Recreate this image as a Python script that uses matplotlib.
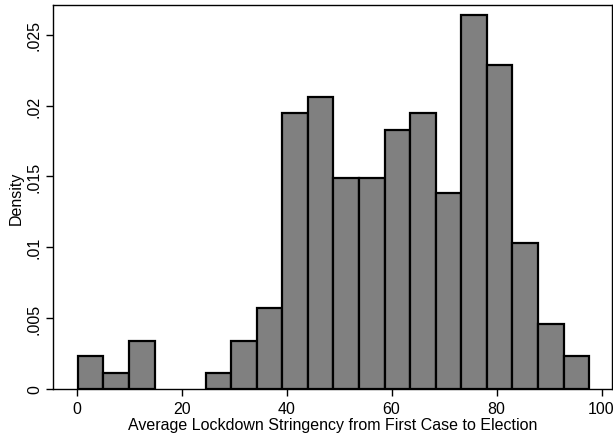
import matplotlib
matplotlib.use("Agg")
import matplotlib.pyplot as plt

plt.rcParams['font.family'] = ['Liberation Sans', 'DejaVu Sans']

# histogram: 20 bins starting at ~0.24, width ~4.87
bin_start = 0.24
bin_width = 4.87
density = [0.0023, 0.00115, 0.0034, 0.0, 0.0, 0.00115, 0.0034, 0.0057,
           0.0195, 0.0206, 0.0149, 0.0149, 0.0183, 0.0195, 0.0138, 0.0264,
           0.0229, 0.0103, 0.0046, 0.0023]

xticks = [0, 20, 40, 60, 80, 100]
yticks = [0, 0.005, 0.01, 0.015, 0.02, 0.025]
ytick_labels = ['0', '.005', '.01', '.015', '.02', '.025']

fig = plt.figure(figsize=(6.13, 4.39), dpi=100)
ax = fig.add_axes([53/613, 49/439, 559/613, 384/439])

# empty bins are not drawn
lefts = [bin_start + i*bin_width for i in range(len(density)) if density[i] > 0]
heights = [d for d in density if d > 0]
ax.bar(lefts, heights, width=bin_width, align='edge',
       color='#808080', edgecolor='black', linewidth=1.6)

ax.set_xlim(-4.5, 102)
ax.set_ylim(0, 0.0271)
ax.set_xticks(xticks)
ax.set_yticks(yticks)
ax.set_yticklabels(ytick_labels, rotation=90, va='center')
ax.tick_params(direction='out', length=5, width=1, labelsize=11.5, color='black')
ax.tick_params(axis='y', pad=3)
for s in ax.spines.values():
    s.set_linewidth(1.0)

ax.set_xlabel('Average Lockdown Stringency from First Case to Election', fontsize=11.5, labelpad=1)
ax.set_ylabel('Density', fontsize=11.5, labelpad=2)

fig.savefig('out.png', dpi=100)
